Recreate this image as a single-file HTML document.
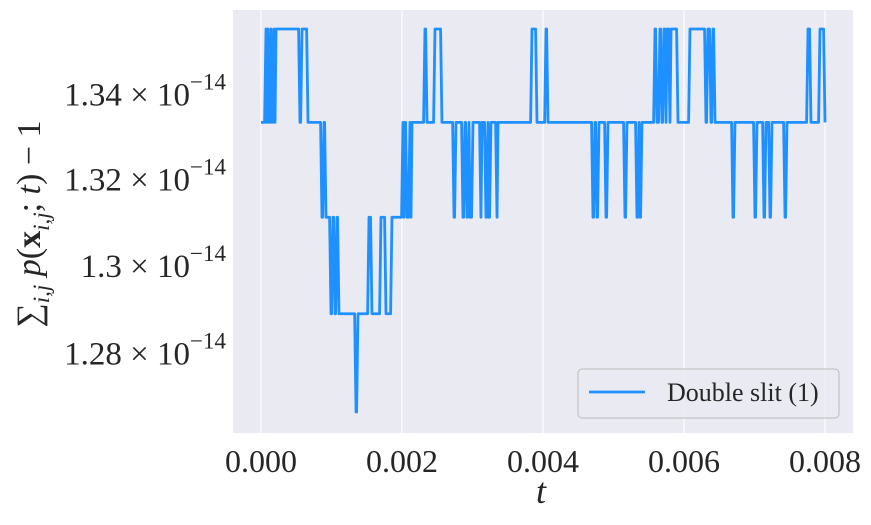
<!DOCTYPE html>
<html><head><meta charset="utf-8"><style>
body{margin:0;background:#fff;}
svg text{font-family:"Liberation Serif",serif;fill:#262626;}
</style></head><body>
<svg id="chart" width="871" height="520" viewBox="0 0 871 520">
<rect x="233" y="10" width="620" height="423" fill="#eaeaf2"/>
<g id="grid"></g>
<g id="series"></g>
<g id="xticks"></g>
<g id="yticks"></g>
<text x="541" y="503" font-size="36" font-style="italic" text-anchor="middle">t</text>
<text transform="translate(40,224) rotate(-90)" font-size="34" text-anchor="middle">∑<tspan font-size="23" dy="9" font-style="italic">i,j</tspan><tspan dy="-9" font-style="italic"> p</tspan>(<tspan font-weight="bold">x</tspan><tspan font-size="23" dy="9" font-style="italic">i,j</tspan><tspan dy="-9">; </tspan><tspan font-style="italic">t</tspan>) − 1</text>
<g>
<rect x="578" y="369" width="261" height="49" rx="4" fill="#eaeaf2" fill-opacity="0.8" stroke="#bbb"/>
<line x1="589" y1="392" x2="645" y2="392" stroke="#1e90ff" stroke-width="2.8"/>
<text x="667" y="401" font-size="26">Double slit (1)</text>
</g>
</svg>
<script>
// run start times (ms) and level (in units of machine epsilon) held from that time
const runStartMs=[0,.071,.085,.099,.113,.142,.156,.184,.199,.213,.553,.582,.667,.865,.894,.922,.993,1.021,1.050,1.078,1.106,1.348,1.376,1.532,1.574,1.702,1.773,1.858,2.014,2.028,2.043,2.071,2.113,2.128,2.142,2.326,2.355,2.468,2.567,2.738,2.766,2.865,2.894,2.922,2.950,2.965,3.007,3.120,3.135,3.191,3.220,3.234,3.262,3.348,3.362,3.844,3.915,4.043,4.071,4.709,4.738,4.766,4.794,4.894,4.922,5.163,5.191,5.333,5.362,5.376,5.404,5.589,5.617,5.659,5.688,5.716,5.745,5.759,5.801,5.816,5.915,6.085,6.312,6.340,6.383,6.411,6.440,6.695,6.723,7.007,7.035,7.135,7.163,7.220,7.248,7.433,7.461,7.759,7.801,7.929];
const runLevel=[60,61,60,61,60,61,60,61,60,61,60,61,60,59,60,59,58,59,58,59,58,57,58,59,58,59,58,59,60,59,60,59,60,59,60,61,60,61,60,59,60,59,60,59,60,59,60,59,60,59,60,59,60,59,60,61,60,61,60,59,60,59,60,59,60,59,60,59,60,59,60,61,60,61,60,61,60,61,60,61,60,61,60,61,60,61,60,59,60,59,60,59,60,59,60,59,60,61,60,61];
const endMs=8.0, endLevel=60;
const xTickVals=[0,0.002,0.004,0.006,0.008];
const xTickLabels=["0.000","0.002","0.004","0.006","0.008"];
const yTickVals=[1.34e-14,1.32e-14,1.30e-14,1.28e-14];
const yTickMant=["1.34","1.32","1.3","1.28"];
const EPS=2.220446049250313e-16;
const DT=0.02; // sample spacing in ms
const NS='http://www.w3.org/2000/svg';
function xs(t){return 261+t*70500;}
function ys(v){return 29+(Math.log(61*EPS)-Math.log(v))*5647;}
const grid=document.getElementById('grid'),xt=document.getElementById('xticks'),yt=document.getElementById('yticks'),ser=document.getElementById('series');
xTickVals.forEach((v,i)=>{
 const l=document.createElementNS(NS,'line');
 l.setAttribute('x1',xs(v));l.setAttribute('x2',xs(v));l.setAttribute('y1',10);l.setAttribute('y2',433);
 l.setAttribute('stroke','#fff');l.setAttribute('stroke-width','1.2');
 
 
 grid.appendChild(l);
 const t=document.createElementNS(NS,'text');
 t.setAttribute('x',xs(v));t.setAttribute('y',472);t.setAttribute('font-size','32');t.setAttribute('text-anchor','middle');
 t.textContent=xTickLabels[i];
 
 
 xt.appendChild(t);
});
yTickVals.forEach((v,i)=>{
 const t=document.createElementNS(NS,'text');
 t.setAttribute('x',226);t.setAttribute('y',ys(v)+16);t.setAttribute('font-size','33');t.setAttribute('text-anchor','end');
 t.innerHTML=yTickMant[i]+' × 10<tspan font-size="23" dy="-16">−14</tspan>';
 
 
 yt.appendChild(t);
});
let d='';
runStartMs.forEach((t,i)=>{
 const next=i+1<runStartMs.length?runStartMs[i+1]:endMs;
 const y=ys(runLevel[i]*EPS).toFixed(2);
 d+=(i?'L':'M')+xs(t/1000).toFixed(2)+','+y;
 const tEnd=Math.max(t,next-DT);
 d+='L'+xs(tEnd/1000).toFixed(2)+','+y;
});
d+='L'+xs(endMs/1000).toFixed(2)+','+ys(endLevel*EPS).toFixed(2);
const p=document.createElementNS(NS,'path');
p.setAttribute('d',d);p.setAttribute('fill','none');p.setAttribute('stroke','#1e90ff');p.setAttribute('stroke-width','2.8');p.setAttribute('stroke-linejoin','round');


ser.appendChild(p);
</script>
</body></html>
